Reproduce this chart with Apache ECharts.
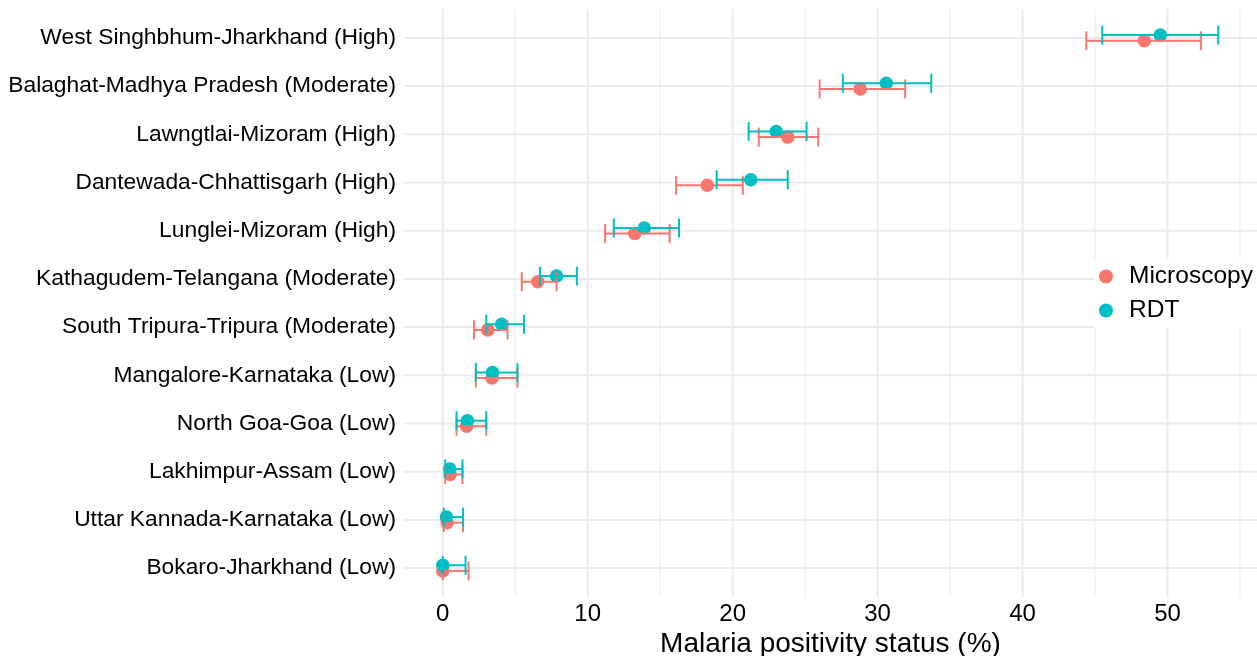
<!DOCTYPE html>
<html><head><meta charset="utf-8">
<script src="https://cdn.jsdelivr.net/npm/echarts@6/dist/echarts.min.js"></script>
<style>html,body{margin:0;padding:0;background:#fff}#c{width:1257px;height:656px}</style>
</head><body><div id="c"></div>
<script>
// Categories from bottom (index 0) to top
const categories = [
  'Bokaro-Jharkhand (Low)',
  'Uttar Kannada-Karnataka (Low)',
  'Lakhimpur-Assam (Low)',
  'North Goa-Goa (Low)',
  'Mangalore-Karnataka (Low)',
  'South Tripura-Tripura (Moderate)',
  'Kathagudem-Telangana (Moderate)',
  'Lunglei-Mizoram (High)',
  'Dantewada-Chhattisgarh (High)',
  'Lawngtlai-Mizoram (High)',
  'Balaghat-Madhya Pradesh (Moderate)',
  'West Singhbhum-Jharkhand (High)'
];
const microscopy   = [0.0, 0.3, 0.5, 1.65, 3.4, 3.1, 6.55, 13.25, 18.25, 23.8, 28.8, 48.4];
const microscopyLo = [0.0, 0.07, 0.17, 0.95, 2.28, 2.16, 5.45, 11.2, 16.1, 21.8, 26.0, 44.4];
const microscopyHi = [1.78, 1.4, 1.36, 3.0, 5.15, 4.47, 7.85, 15.65, 20.7, 25.9, 31.9, 52.3];
const rdt   = [0.0, 0.25, 0.48, 1.7, 3.43, 4.07, 7.85, 13.9, 21.25, 23.0, 30.6, 49.5];
const rdtLo = [0.0, 0.07, 0.17, 0.95, 2.28, 3.0, 6.7, 11.8, 18.9, 21.1, 27.6, 45.5];
const rdtHi = [1.57, 1.4, 1.36, 3.0, 5.15, 5.6, 9.25, 16.3, 23.8, 25.1, 33.7, 53.5];
const xTickLabels = [0, 10, 20, 30, 40, 50];
const xMinorTicks = [5, 15, 25, 35, 45, 55];

const FONT = "'Liberation Sans', Arial, Helvetica, sans-serif";
const C_MICRO = '#F8766D', C_RDT = '#00BFC4';
const GRID = '#EBEBEB';
const DODGE = 2.8, CAP = 9.5;

function vline(width) {
  return function (params, api) {
    const cs = params.coordSys;
    const x = api.coord([api.value(0), 0])[0];
    return { type: 'line', shape: { x1: x, y1: cs.y, x2: x, y2: cs.y + cs.height },
             style: { stroke: GRID, lineWidth: width } };
  };
}
function hline(params, api) {
  const cs = params.coordSys;
  const y = api.coord([0, api.value(1)])[1];
  return { type: 'line', shape: { x1: cs.x, y1: y, x2: cs.x + cs.width, y2: y },
           style: { stroke: GRID, lineWidth: 2 } };
}
function errbar(color, off) {
  return function (params, api) {
    const p1 = api.coord([api.value(0), api.value(2)]);
    const p2 = api.coord([api.value(1), api.value(2)]);
    const y = p1[1] + off;
    const st = { stroke: color, lineWidth: 2 };
    return { type: 'group', children: [
      { type: 'line', shape: { x1: p1[0], y1: y, x2: p2[0], y2: y }, style: st },
      { type: 'line', shape: { x1: p1[0], y1: y - CAP, x2: p1[0], y2: y + CAP }, style: st },
      { type: 'line', shape: { x1: p2[0], y1: y - CAP, x2: p2[0], y2: y + CAP }, style: st }
    ]};
  };
}

const chart = echarts.init(document.getElementById('c'), null, { renderer: 'canvas' });
chart.setOption({
  animation: false,
  backgroundColor: '#fff',
  textStyle: { fontFamily: FONT },
  grid: { left: 404, right: 0, top: 9, bottom: 59, containLabel: false, outerBoundsMode: 'none' },
  legend: {
    data: ['Microscopy', 'RDT'],
    orient: 'vertical', left: 1094, top: 259,
    icon: 'circle', itemWidth: 36, itemHeight: 14, itemGap: 9,
    padding: 5, backgroundColor: '#fff',
    textStyle: { fontSize: 24.5, color: '#000', fontFamily: FONT }
  },
  xAxis: {
    type: 'value', min: -2.675, max: 56.175,
    axisLine: { show: false }, axisTick: { show: false }, splitLine: { show: false },
    axisLabel: { customValues: xTickLabels, fontSize: 24, color: '#000', margin: 5, fontFamily: FONT },
    name: 'Malaria positivity status (%)', nameLocation: 'middle', nameGap: 33,
    nameMoveOverlap: false,
    nameTextStyle: { fontSize: 28, color: '#000', fontFamily: FONT, verticalAlign: 'top' }
  },
  yAxis: {
    type: 'value', min: -0.6, max: 11.6,
    axisLine: { show: false }, axisTick: { show: false }, splitLine: { show: false },
    axisLabel: {
      customValues: categories.map((c, i) => i),
      formatter: v => categories[Math.round(v)] || '',
      fontSize: 22.8, color: '#000', margin: 8, fontFamily: FONT
    }
  },
  series: [
    { type: 'custom', name: 'gminor', silent: true, z: 0, renderItem: vline(1),
      data: xMinorTicks.map(v => [v, 0]) },
    { type: 'custom', name: 'gmajor', silent: true, z: 0, renderItem: vline(2),
      data: xTickLabels.map(v => [v, 0]) },
    { type: 'custom', name: 'grows', silent: true, z: 0, renderItem: hline,
      data: categories.map((c, i) => [0, i]) },
    { type: 'scatter', name: 'Microscopy', z: 2, symbol: 'circle', symbolSize: 13.5,
      symbolOffset: [0, DODGE], itemStyle: { color: C_MICRO, opacity: 1 },
      data: microscopy.map((v, i) => [v, i]) },
    { type: 'scatter', name: 'RDT', z: 2, symbol: 'circle', symbolSize: 13.5,
      symbolOffset: [0, -DODGE], itemStyle: { color: C_RDT, opacity: 1 },
      data: rdt.map((v, i) => [v, i]) },
    { type: 'custom', name: 'Microscopy CI', z: 3, renderItem: errbar(C_MICRO, DODGE),
      encode: { x: [0, 1], y: 2 },
      data: microscopyLo.map((v, i) => [v, microscopyHi[i], i]) },
    { type: 'custom', name: 'RDT CI', z: 3, renderItem: errbar(C_RDT, -DODGE),
      encode: { x: [0, 1], y: 2 },
      data: rdtLo.map((v, i) => [v, rdtHi[i], i]) }
  ]
});
</script></body></html>
